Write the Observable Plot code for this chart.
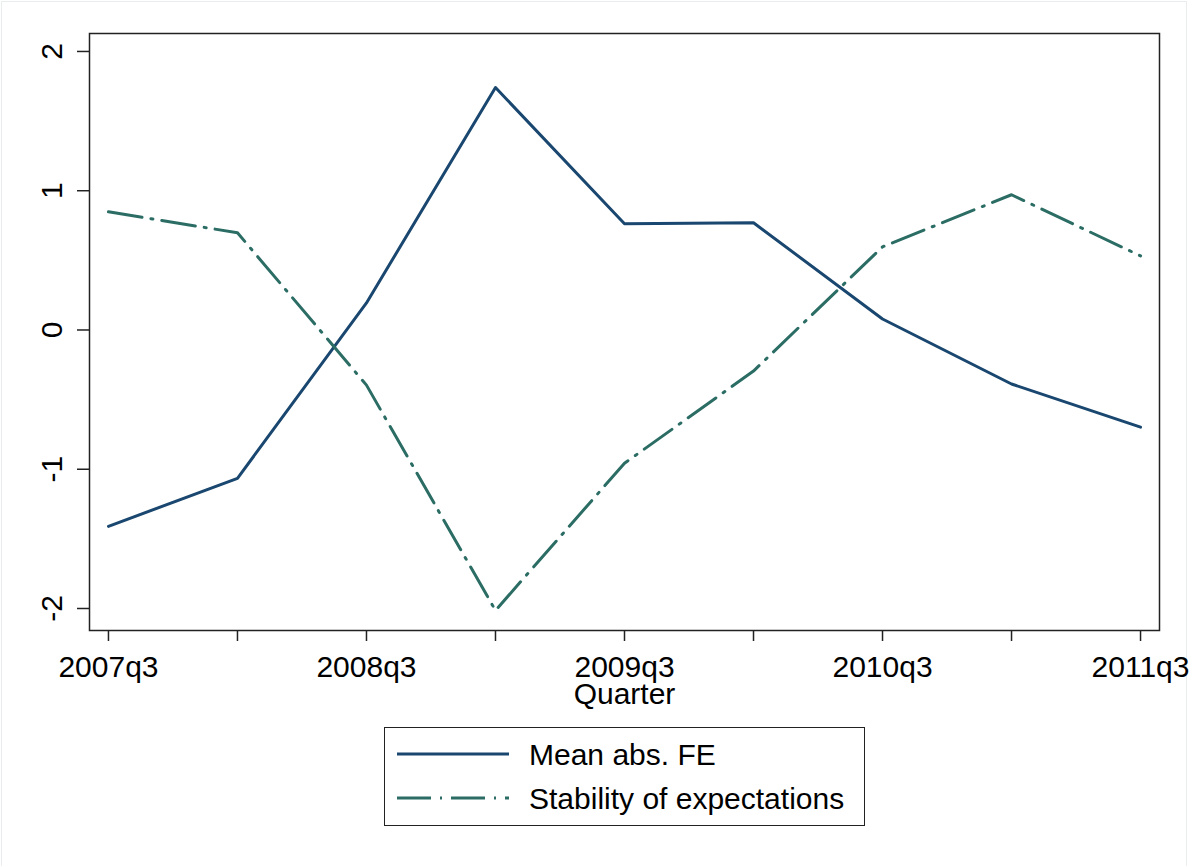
<!DOCTYPE html>
<html>
<head>
<meta charset="utf-8">
<script src="https://cdn.jsdelivr.net/npm/d3@7"></script>
<script src="https://cdn.jsdelivr.net/npm/@observablehq/plot@0.6"></script>
<style>
  html, body { margin: 0; padding: 0; background: #fff; }
  #wrap { position: relative; width: 1192px; height: 866px; overflow: hidden;
          font-family: "Liberation Sans", Arial, Helvetica, sans-serif; }
  #outer { position: absolute; left: 1px; top: 1px; width: 1186px; height: 870px;
           border: 1px solid #e9eded; box-sizing: border-box; }
  #chart { position: absolute; left: 0; top: 0; }
  #legend { position: absolute; left: 384px; top: 727px; width: 481px; height: 99px;
            border: 1.5px solid #222; box-sizing: border-box; background: #fff; }
  .row { position: absolute; left: 0; height: 40px; width: 100%; }
  .row svg { position: absolute; left: 12px; top: 0; }
  .row span { position: absolute; left: 144px; top: 1px; font-size: 30px; line-height: 40px; color: #000; white-space: nowrap; }
</style>
</head>
<body>
<div id="wrap">
  <div id="outer"></div>
  <div id="chart"></div>
  <div id="legend"></div>
</div>
<script>
// ---- data ----
const quarters = ["2007q3","2008q1","2008q3","2009q1","2009q3","2010q1","2010q3","2011q1","2011q3"];
const shownQuarterLabels = ["2007q3","2008q3","2009q3","2010q3","2011q3"];
const meanAbsFE = [-1.41, -1.065, 0.194, 1.741, 0.763, 0.770, 0.079, -0.388, -0.698];
const stability = [0.849, 0.698, -0.396, -2.014, -0.957, -0.295, 0.597, 0.971, 0.532];
const yTicks = [-2, -1, 0, 1, 2];
const seriesNames = ["Mean abs. FE", "Stability of expectations"];
const seriesColors = ["#1a476f", "#2b6d64"];
const dash = "34,9,2,9";

const rowsFE = quarters.map((q, i) => ({i, q, v: meanAbsFE[i]}));
const rowsST = quarters.map((q, i) => ({i, q, v: stability[i]}));

const font = '"Liberation Sans", Arial, Helvetica, sans-serif';

const chart = Plot.plot({
  width: 1192,
  height: 712,
  marginLeft: 89,
  marginRight: 33,
  marginTop: 33,
  marginBottom: 82,
  style: { fontFamily: font, fontSize: "30px", color: "#000", background: "transparent", overflow: "visible" },
  x: { type: "linear", domain: [-0.147, quarters.length - 1 + 0.147], label: null },
  y: { domain: [-2.158, 2.129], label: null },
  marks: [
    Plot.axisY({ ticks: yTicks, tickSize: 12, tickFormat: () => "", stroke: "#222", strokeWidth: 1.5 }),
    Plot.text(yTicks, {
      y: d => d, text: d => String(d), frameAnchor: "left", dx: -37,
      rotate: -90, textAnchor: "middle", lineAnchor: "middle", fontSize: 30, fill: "#000"
    }),
    Plot.axisX({
      ticks: d3.range(quarters.length), tickSize: 11, tickPadding: 14,
      tickFormat: i => shownQuarterLabels.includes(quarters[i]) ? quarters[i] : "",
      fontSize: 30, stroke: "#222", strokeWidth: 1.5, fill: "#000"
    }),
    Plot.text(["Quarter"], { frameAnchor: "bottom", dy: 73, fontSize: 30, fill: "#000" }),
    Plot.line(rowsFE, { x: "i", y: "v", stroke: seriesColors[0], strokeWidth: 3 }),
    Plot.line(rowsST, { x: "i", y: "v", stroke: seriesColors[1], strokeWidth: 3, strokeDasharray: dash }),
    Plot.frame({ stroke: "#222", strokeWidth: 1.5 })
  ]
});
document.getElementById("chart").appendChild(chart);

// ---- legend ----
const legend = document.getElementById("legend");
const tops = [6, 50];
seriesNames.forEach((name, k) => {
  const row = document.createElement("div");
  row.className = "row";
  row.style.top = tops[k] + "px";
  const svg = d3.create("svg").attr("width", 115).attr("height", 40);
  svg.append("line").attr("x1", 0).attr("x2", 112).attr("y1", 20).attr("y2", 20)
    .attr("stroke", seriesColors[k]).attr("stroke-width", 3)
    .attr("stroke-dasharray", k === 1 ? dash : null);
  row.appendChild(svg.node());
  const sp = document.createElement("span");
  sp.textContent = name;
  row.appendChild(sp);
  legend.appendChild(row);
});
</script>
</body>
</html>
